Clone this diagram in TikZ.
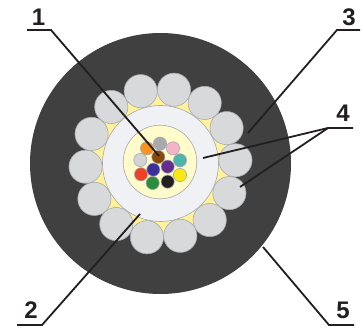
\documentclass[tikz,border=0pt]{standalone}
\usepackage{fontspec}
\setmainfont{Liberation Sans}
\definecolor{jacket}{HTML}{404041}
\definecolor{strand}{HTML}{D7D9DB}
\definecolor{rim}{HTML}{A7A9AC}
\definecolor{filler}{HTML}{FFF29A}
\definecolor{tube}{HTML}{EFF1F4}
\definecolor{gel}{HTML}{FFFBCB}
\definecolor{ink}{HTML}{231F20}
\tikzset{
  x=1pt,y=-1pt,
  rimmed/.style={draw=rim,line width=0.6pt},
  numlabel/.style={font=\fontsize{24}{24}\selectfont\bfseries,text=ink,inner sep=0pt},
  leader/.style={draw=ink,line width=1.8pt,line join=miter},
  fibre/.style={rimmed,fill=#1},
}
\begin{document}
\begin{tikzpicture}
\useasboundingbox (0,0) rectangle (362,329);
\coordinate (c) at (160.5,163.5);
\fill[jacket] (c) circle[radius=130.5];
\fill[filler] (c) circle[radius=74];
\foreach \k in {0,...,13}{
  \pgfmathsetmacro{\a}{79.6-\k*25.714}
  \draw[rimmed,fill=strand] (160.5+75*cos \a,163.5-75*sin \a) circle[radius=16.6];
}
\draw[rimmed,fill=tube] (c) circle[radius=58];
\draw[rimmed,fill=gel] (160,162) circle[radius=36.8];
\foreach \px/\py/\col in {
  150/101/A7A9AC, 189/115/F4B4C6, 210/151/4DB6AC, 210/195/F9E814,
  173/215/231F20, 128/219/2A8C3C,  93/193/EF4123,  91/150/D1D3D4,
  111/115/F7941D, 145/141/8B4A0B, 173/170/662D91, 130/179/3B2F9C}{
  \definecolor{fc}{HTML}{\col}
  \draw[fibre=fc] (110+\px/3,110+\py/3) circle[radius=6.6];
}
\node[numlabel] (n1) at (38.5,17) {1};
\node[numlabel] (n2) at (31,310) {2};
\node[numlabel] (n3) at (349,17) {3};
\node[numlabel] (n4) at (343,113) {4};
\node[numlabel] (n5) at (343,310) {5};
\coordinate (a1) at (27,30);  \coordinate (b1) at (51,30);  \coordinate (e1) at (159,156);
\coordinate (a2) at (17,325); \coordinate (b2) at (42,325); \coordinate (e2) at (140,214);
\coordinate (a3) at (360,30); \coordinate (b3) at (337,30); \coordinate (e3) at (248,133);
\coordinate (a4) at (353,128);\coordinate (b4) at (328,128);\coordinate (e4) at (203,158);\coordinate (f4) at (240,187);
\coordinate (a5) at (354,325);\coordinate (b5) at (329,325);\coordinate (e5) at (263,247);
\draw[leader] (a1) -- (b1) -- (e1);
\draw[leader] (a2) -- (b2) -- (e2);
\draw[leader] (a3) -- (b3) -- (e3);
\draw[leader] (e4) -- (b4) -- (a4);
\draw[leader] (b4) -- (f4);
\draw[leader] (a5) -- (b5) -- (e5);
\end{tikzpicture}
\end{document}
